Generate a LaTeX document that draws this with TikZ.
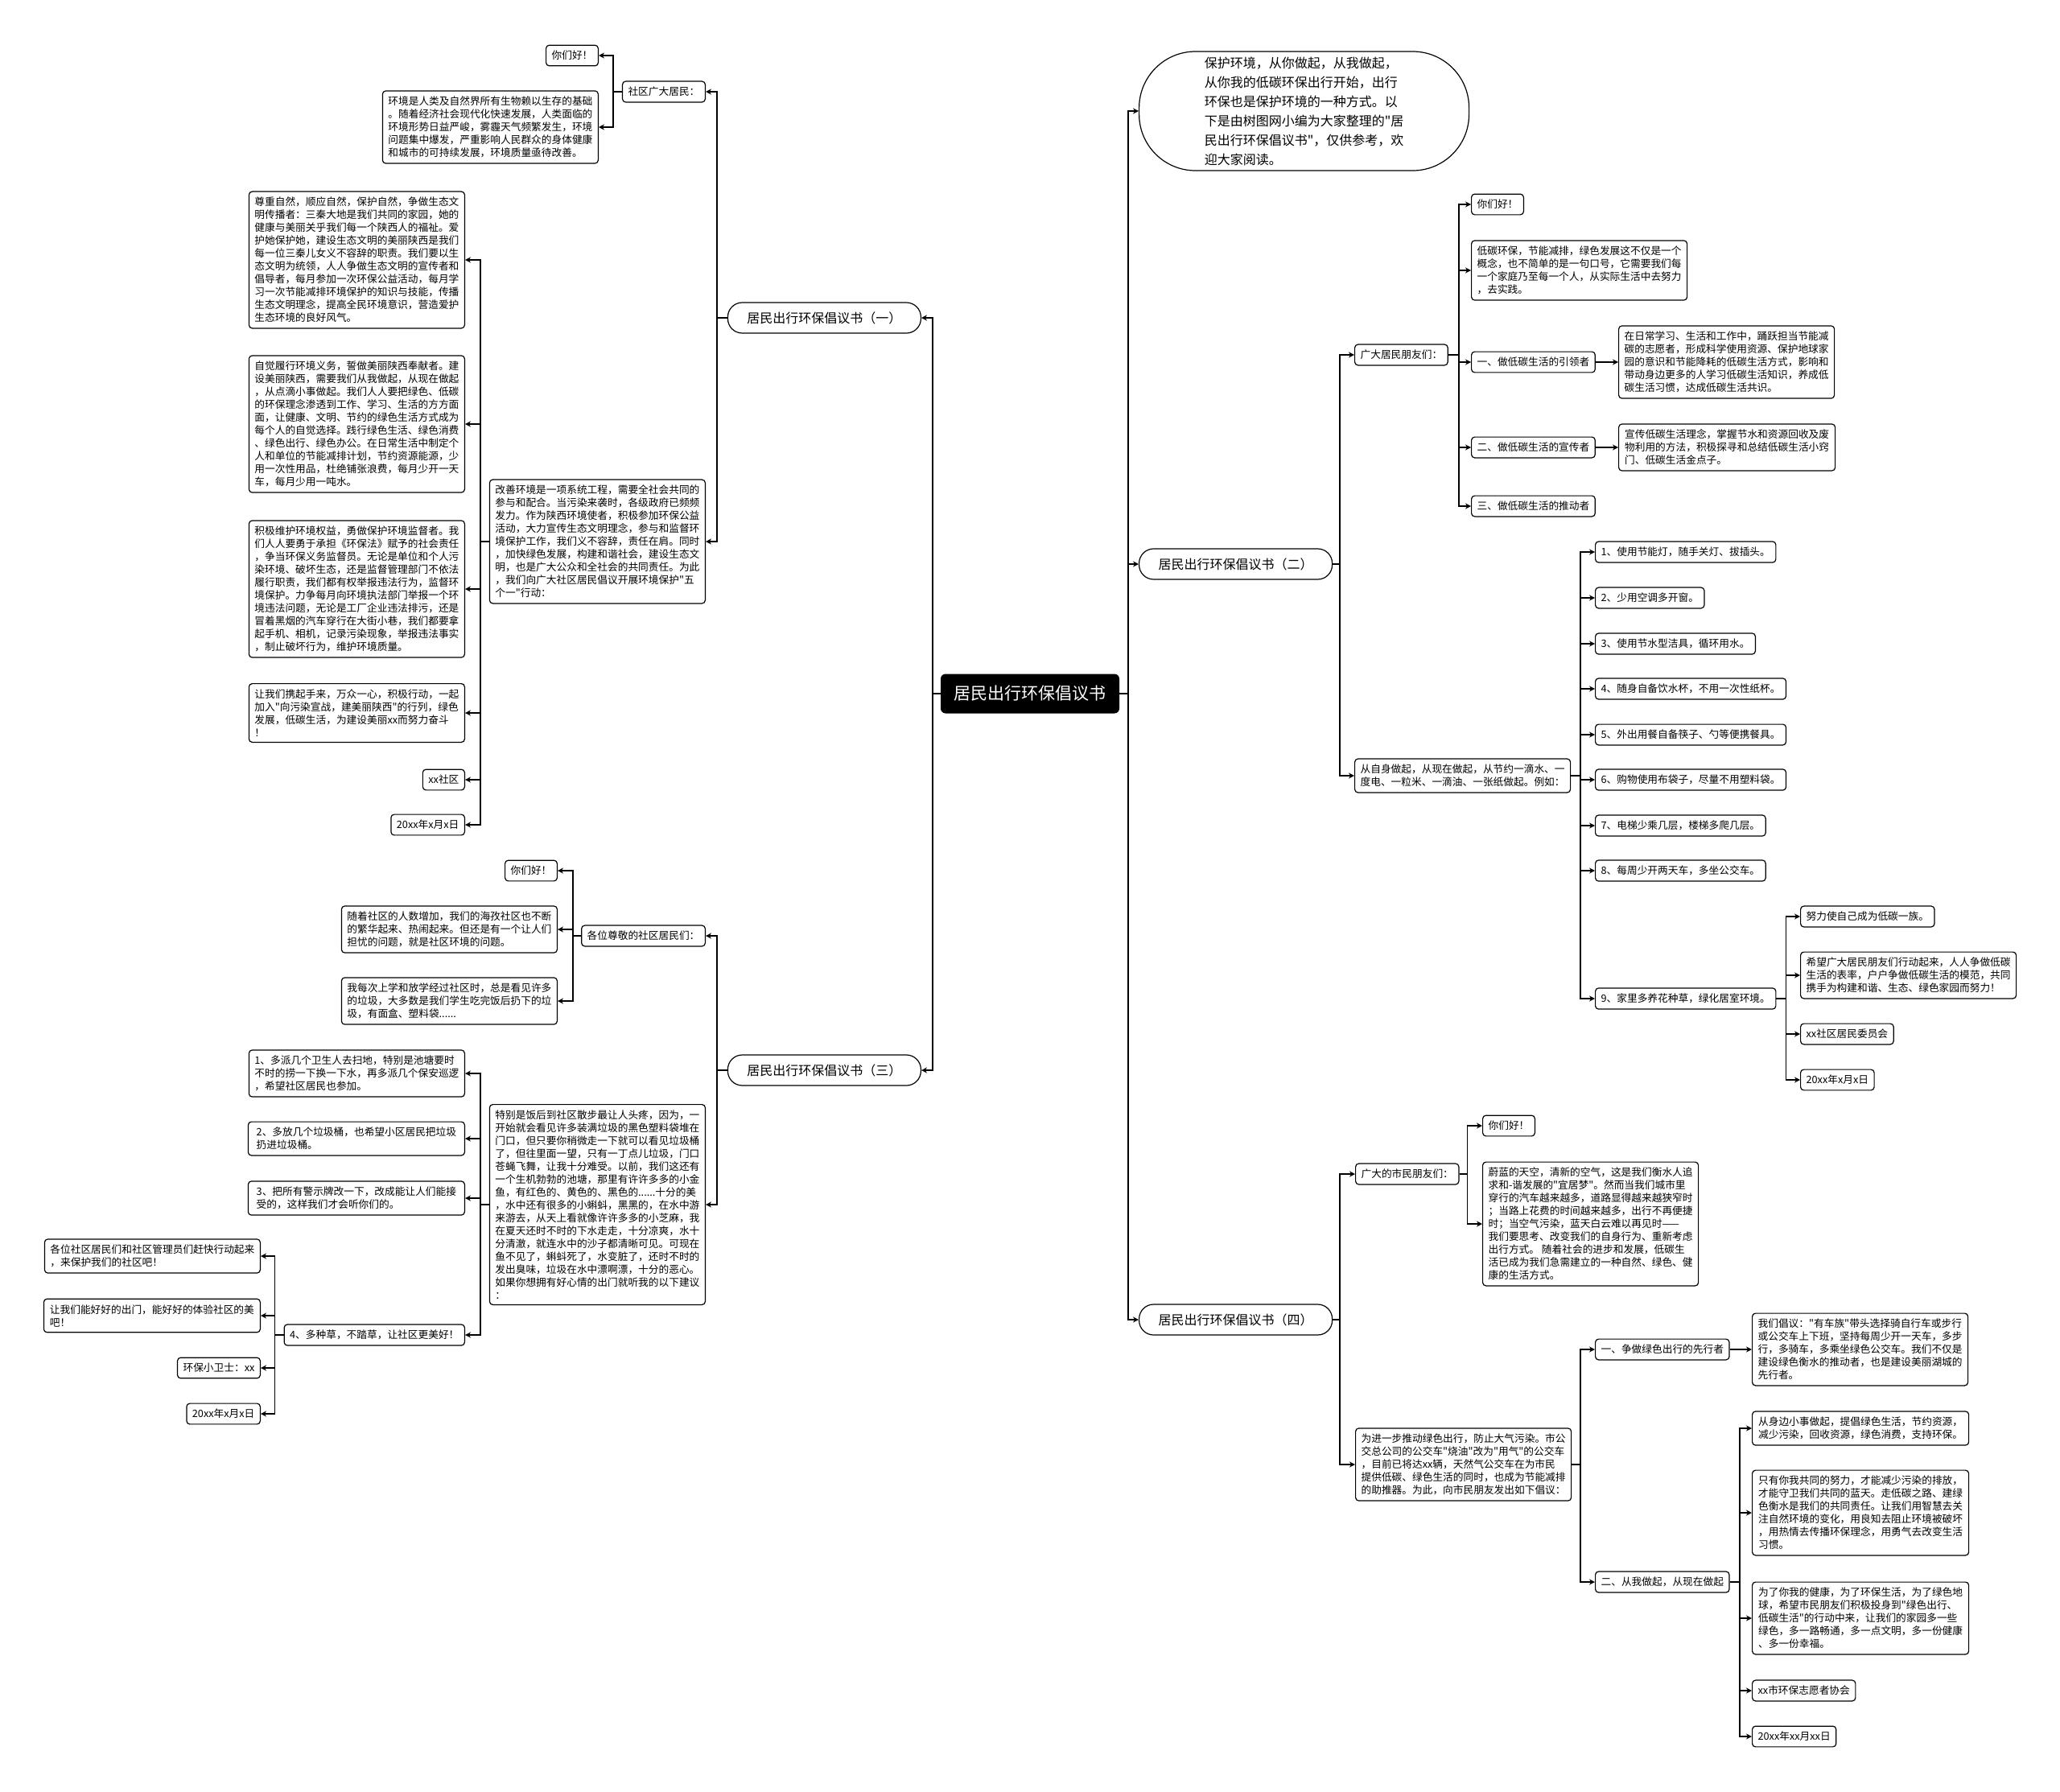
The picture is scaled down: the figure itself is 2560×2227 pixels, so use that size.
\documentclass[tikz,border=0pt]{standalone}
\usepackage{fontspec}
\setmainfont{Noto Sans CJK SC}[Ligatures=TeXOff]
\usepackage{tikz}
\usetikzlibrary{arrows.meta}
\newcommand\leaffont{\fontsize{12.7pt}{16pt}\selectfont}
\newcommand\topicfont{\fontsize{16pt}{20pt}\selectfont}
\newcommand\introfont{\fontsize{16pt}{24pt}\selectfont}
\newcommand\rootfont{\fontsize{21pt}{26pt}\selectfont}

\begin{document}
\begin{tikzpicture}[x=1pt,y=-1pt,
  leaf/.style={draw,line width=1.2pt,rounded corners=4pt,fill=white,align=left,font=\leaffont,inner xsep=7pt,inner ysep=7pt},
  topic/.style={draw,line width=1.2pt,rounded corners=18pt,fill=white,font=\topicfont,minimum width=240pt,minimum height=38pt},
  intro/.style={draw,line width=1.2pt,rounded corners=70pt,fill=white,align=left,font=\introfont,minimum width=410pt,minimum height=148pt},
  link/.style={line width=1.8pt,-{Stealth[length=7pt,width=7pt]}}]
\useasboundingbox[fill=white] (0,0) rectangle (2560,2227);

% centre
\node[fill=black,text=white,rounded corners=6pt,font=\rootfont,minimum width=222pt,minimum height=49pt] (root) at (1280,862) {居民出行环保倡议书};
\node[topic,anchor=east] (t1) at (1145,395) {居民出行环保倡议书（一）};
\node[topic,anchor=east] (t3) at (1145,1330) {居民出行环保倡议书（三）};
\node[intro,anchor=west] (intro) at (1415,138) {保护环境，从你做起，从我做起，\\从你我的低碳环保出行开始，出行\\环保也是保护环境的一种方式。以\\下是由树图网小编为大家整理的"居\\民出行环保倡议书"，仅供参考，欢\\迎大家阅读。};
\node[topic,anchor=west] (t2) at (1415,701) {居民出行环保倡议书（二）};
\node[topic,anchor=west] (t4) at (1415,1640) {居民出行环保倡议书（四）};

% (一)
\node[leaf,anchor=east] (a1) at (877,114) {社区广大居民：};
\node[leaf,anchor=east] (a1a) at (744,69) {你们好！};
\node[leaf,anchor=east] (a1b) at (744,158) {环境是人类及自然界所有生物赖以生存的基础\\。随着经济社会现代化快速发展，人类面临的\\环境形势日益严峻，雾霾天气频繁发生，环境\\问题集中爆发，严重影响人民群众的身体健康\\和城市的可持续发展，环境质量亟待改善。};
\node[leaf,anchor=east] (a2) at (877,673) {改善环境是一项系统工程，需要全社会共同的\\参与和配合。当污染来袭时，各级政府已频频\\发力。作为陕西环境使者，积极参加环保公益\\活动，大力宣传生态文明理念，参与和监督环\\境保护工作，我们义不容辞，责任在肩。同时\\，加快绿色发展，构建和谐社会，建设生态文\\明，也是广大公众和全社会的共同责任。为此\\，我们向广大社区居民倡议开展环境保护"五\\个一"行动：};
\node[leaf,anchor=east] (a2a) at (578,323) {尊重自然，顺应自然，保护自然，争做生态文\\明传播者：三秦大地是我们共同的家园，她的\\健康与美丽关乎我们每一个陕西人的福祉。爱\\护她保护她，建设生态文明的美丽陕西是我们\\每一位三秦儿女义不容辞的职责。我们要以生\\态文明为统领，人人争做生态文明的宣传者和\\倡导者，每月参加一次环保公益活动，每月学\\习一次节能减排环境保护的知识与技能，传播\\生态文明理念，提高全民环境意识，营造爱护\\生态环境的良好风气。};
\node[leaf,anchor=east] (a2b) at (578,527) {自觉履行环境义务，誓做美丽陕西奉献者。建\\设美丽陕西，需要我们从我做起，从现在做起\\，从点滴小事做起。我们人人要把绿色、低碳\\的环保理念渗透到工作、学习、生活的方方面\\面，让健康、文明、节约的绿色生活方式成为\\每个人的自觉选择。践行绿色生活、绿色消费\\、绿色出行、绿色办公。在日常生活中制定个\\人和单位的节能减排计划，节约资源能源，少\\用一次性用品，杜绝铺张浪费，每月少开一天\\车，每月少用一吨水。};
\node[leaf,anchor=east] (a2c) at (578,732) {积极维护环境权益，勇做保护环境监督者。我\\们人人要勇于承担《环保法》赋予的社会责任\\，争当环保义务监督员。无论是单位和个人污\\染环境、破坏生态，还是监督管理部门不依法\\履行职责，我们都有权举报违法行为，监督环\\境保护。力争每月向环境执法部门举报一个环\\境违法问题，无论是工厂企业违法排污，还是\\冒着黑烟的汽车穿行在大街小巷，我们都要拿\\起手机、相机，记录污染现象，举报违法事实\\，制止破坏行为，维护环境质量。};
\node[leaf,anchor=east] (a2d) at (578,886) {让我们携起手来，万众一心，积极行动，一起\\加入"向污染宣战，建美丽陕西"的行列，绿色\\发展，低碳生活，为建设美丽xx而努力奋斗\\！};
\node[leaf,anchor=east] (a2e) at (578,969) {xx社区};
\node[leaf,anchor=east] (a2f) at (578,1025) {20xx年x月x日};

% (三)
\node[leaf,anchor=east] (b1) at (877,1163) {各位尊敬的社区居民们：};
\node[leaf,anchor=east] (b1a) at (693,1082) {你们好！};
\node[leaf,anchor=east] (b1b) at (693,1155) {随着社区的人数增加，我们的海孜社区也不断\\的繁华起来、热闹起来。但还是有一个让人们\\担忧的问题，就是社区环境的问题。};
\node[leaf,anchor=east] (b1c) at (693,1244) {我每次上学和放学经过社区时，总是看见许多\\的垃圾，大多数是我们学生吃完饭后扔下的垃\\圾，有面盒、塑料袋......};
\node[leaf,anchor=east] (b2) at (877,1497) {特别是饭后到社区散步最让人头疼，因为，一\\开始就会看见许多装满垃圾的黑色塑料袋堆在\\门口，但只要你稍微走一下就可以看见垃圾桶\\了，但往里面一望，只有一丁点儿垃圾，门口\\苍蝇飞舞，让我十分难受。以前，我们这还有\\一个生机勃勃的池塘，那里有许许多多的小金\\鱼，有红色的、黄色的、黑色的......十分的美\\，水中还有很多的小蝌蚪，黑黑的，在水中游\\来游去，从天上看就像许许多多的小芝麻，我\\在夏天还时不时的下水走走，十分凉爽，水十\\分清澈，就连水中的沙子都清晰可见。可现在\\鱼不见了，蝌蚪死了，水变脏了，还时不时的\\发出臭味，垃圾在水中漂啊漂，十分的恶心。\\如果你想拥有好心情的出门就听我的以下建议\\：};
\node[leaf,anchor=east] (b2a) at (578,1334) {1、多派几个卫生人去扫地，特别是池塘要时\\不时的捞一下换一下水，再多派几个保安巡逻\\，希望社区居民也参加。};
\node[leaf,anchor=east,minimum width=269pt] (b2b) at (578,1415) {2、多放几个垃圾桶，也希望小区居民把垃圾\\扔进垃圾桶。};
\node[leaf,anchor=east,minimum width=269pt] (b2c) at (578,1489) {3、把所有警示牌改一下，改成能让人们能接\\受的，这样我们才会听你们的。};
\node[leaf,anchor=east] (b2d) at (578,1659) {4、多种草，不踏草，让社区更美好！};
\node[leaf,anchor=east] (b2d1) at (324,1561) {各位社区居民们和社区管理员们赶快行动起来\\，来保护我们的社区吧！};
\node[leaf,anchor=east,minimum width=269pt] (b2d2) at (324,1635) {让我们能好好的出门，能好好的体验社区的美\\吧！};
\node[leaf,anchor=east] (b2d3) at (324,1700) {环保小卫士：xx};
\node[leaf,anchor=east] (b2d4) at (324,1757) {20xx年x月x日};

% (二)
\node[leaf,anchor=west] (c1) at (1683,441) {广大居民朋友们：};
\node[leaf,anchor=west] (c1a) at (1828,254) {你们好！};
\node[leaf,anchor=west] (c1b) at (1828,336) {低碳环保，节能减排，绿色发展这不仅是一个\\概念，也不简单的是一句口号，它需要我们每\\一个家庭乃至每一个人，从实际生活中去努力\\，去实践。};
\node[leaf,anchor=west] (c1c) at (1828,450) {一、做低碳生活的引领者};
\node[leaf,anchor=west] (c1c1) at (2011,450) {在日常学习、生活和工作中，踊跃担当节能减\\碳的志愿者，形成科学使用资源、保护地球家\\园的意识和节能降耗的低碳生活方式，影响和\\带动身边更多的人学习低碳生活知识，养成低\\碳生活习惯，达成低碳生活共识。};
\node[leaf,anchor=west] (c1d) at (1828,556) {二、做低碳生活的宣传者};
\node[leaf,anchor=west,minimum width=269pt] (c1d1) at (2011,556) {宣传低碳生活理念，掌握节水和资源回收及废\\物利用的方法，积极探寻和总结低碳生活小窍\\门、低碳生活金点子。};
\node[leaf,anchor=west] (c1e) at (1828,629) {三、做低碳生活的推动者};
\node[leaf,anchor=west] (c2) at (1683,964) {从自身做起，从现在做起，从节约一滴水、一\\度电、一粒米、一滴油、一张纸做起。例如：};
\node[leaf,anchor=west] (c21) at (1982,686) {1、使用节能灯，随手关灯、拔插头。};
\node[leaf,anchor=west] (c22) at (1982,743) {2、少用空调多开窗。};
\node[leaf,anchor=west] (c23) at (1982,800) {3、使用节水型洁具，循环用水。};
\node[leaf,anchor=west] (c24) at (1982,856) {4、随身自备饮水杯，不用一次性纸杯。};
\node[leaf,anchor=west] (c25) at (1982,913) {5、外出用餐自备筷子、勺等便携餐具。};
\node[leaf,anchor=west] (c26) at (1982,969) {6、购物使用布袋子，尽量不用塑料袋。};
\node[leaf,anchor=west] (c27) at (1982,1026) {7、电梯少乘几层，楼梯多爬几层。};
\node[leaf,anchor=west] (c28) at (1982,1082) {8、每周少开两天车，多坐公交车。};
\node[leaf,anchor=west] (c29) at (1982,1241) {9、家里多养花种草，绿化居室环境。};
\node[leaf,anchor=west] (c291) at (2237,1139) {努力使自己成为低碳一族。};
\node[leaf,anchor=west] (c292) at (2237,1212) {希望广大居民朋友们行动起来，人人争做低碳\\生活的表率，户户争做低碳生活的模范，共同\\携手为构建和谐、生态、绿色家园而努力！};
\node[leaf,anchor=west] (c293) at (2237,1285) {xx社区居民委员会};
\node[leaf,anchor=west] (c294) at (2237,1342) {20xx年x月x日};

% (四)
\node[leaf,anchor=west] (d1) at (1684,1459) {广大的市民朋友们：};
\node[leaf,anchor=west] (d1a) at (1842,1399) {你们好！};
\node[leaf,anchor=west] (d1b) at (1842,1521) {蔚蓝的天空，清新的空气，这是我们衡水人追\\求和-谐发展的"宜居梦"。然而当我们城市里\\穿行的汽车越来越多，道路显得越来越狭窄时\\；当路上花费的时间越来越多，出行不再便捷\\时；当空气污染，蓝天白云难以再见时——\\我们要思考、改变我们的自身行为、重新考虑\\出行方式。 随着社会的进步和发展，低碳生\\活已成为我们急需建立的一种自然、绿色、健\\康的生活方式。};
\node[leaf,anchor=west] (d2) at (1684,1820) {为进一步推动绿色出行，防止大气污染。市公\\交总公司的公交车"烧油"改为"用气"的公交车\\，目前已将达xx辆，天然气公交车在为市民\\提供低碳、绿色生活的同时，也成为节能减排\\的助推器。为此，向市民朋友发出如下倡议：};
\node[leaf,anchor=west] (d2a) at (1982,1677) {一、争做绿色出行的先行者};
\node[leaf,anchor=west] (d2a1) at (2177,1677) {我们倡议："有车族"带头选择骑自行车或步行\\或公交车上下班，坚持每周少开一天车，多步\\行，多骑车，多乘坐绿色公交车。我们不仅是\\建设绿色衡水的推动者，也是建设美丽湖城的\\先行者。};
\node[leaf,anchor=west] (d2b) at (1982,1966) {二、从我做起，从现在做起};
\node[leaf,anchor=west,minimum width=269pt] (d2b1) at (2177,1775) {从身边小事做起，提倡绿色生活，节约资源，\\减少污染，回收资源，绿色消费，支持环保。};
\node[leaf,anchor=west,minimum width=269pt] (d2b2) at (2177,1880) {只有你我共同的努力，才能减少污染的排放，\\才能守卫我们共同的蓝天。走低碳之路、建绿\\色衡水是我们的共同责任。让我们用智慧去关\\注自然环境的变化，用良知去阻止环境被破坏\\，用热情去传播环保理念，用勇气去改变生活\\习惯。};
\node[leaf,anchor=west,minimum width=269pt] (d2b3) at (2177,2011) {为了你我的健康，为了环保生活，为了绿色地\\球，希望市民朋友们积极投身到"绿色出行、\\低碳生活"的行动中来，让我们的家园多一些\\绿色，多一路畅通，多一点文明，多一份健康\\、多一份幸福。};
\node[leaf,anchor=west] (d2b4) at (2177,2101) {xx市环保志愿者协会};
\node[leaf,anchor=west] (d2b5) at (2177,2158) {20xx年xx月xx日};

% connectors
\foreach \c in {t1,t3} \draw[link] (root.west) -- ++(-10,0) |- (\c.east);
\foreach \c in {intro,t2,t4} \draw[link] (root.east) -- ++(11,0) |- (\c.west);
\foreach \c in {a1,a2} \draw[link] (t1.west) -- ++(-13,0) |- (\c.east);
\foreach \c in {a1a,a1b} \draw[link] (a1.west) -- ++(-11,0) |- (\c.east);
\foreach \c in {a2a,a2b,a2c,a2d,a2e,a2f} \draw[link] (a2.west) -- ++(-11,0) |- (\c.east);
\foreach \c in {b1,b2} \draw[link] (t3.west) -- ++(-13,0) |- (\c.east);
\foreach \c in {b1a,b1b,b1c} \draw[link] (b1.west) -- ++(-10,0) |- (\c.east);
\foreach \c in {b2a,b2b,b2c,b2d} \draw[link] (b2.west) -- ++(-11,0) |- (\c.east);
\foreach \c in {b2d1,b2d2,b2d3,b2d4} \draw[link] (b2d.west) -- ++(-11,0) |- (\c.east);
\foreach \c in {c1,c2} \draw[link] (t2.east) -- ++(9,0) |- (\c.west);
\foreach \c in {c1a,c1b,c1c,c1d,c1e} \draw[link] (c1.east) -- ++(13,0) |- (\c.west);
\draw[link] (c1c.east) -- (c1c1.west);
\draw[link] (c1d.east) -- (c1d1.west);
\foreach \c in {c21,c22,c23,c24,c25,c26,c27,c28,c29} \draw[link] (c2.east) -- ++(12,0) |- (\c.west);
\foreach \c in {c291,c292,c293,c294} \draw[link] (c29.east) -- ++(12,0) |- (\c.west);
\foreach \c in {d1,d2} \draw[link] (t4.east) -- ++(9,0) |- (\c.west);
\foreach \c in {d1a,d1b} \draw[link] (d1.east) -- ++(10,0) |- (\c.west);
\foreach \c in {d2a,d2b} \draw[link] (d2.east) -- ++(11,0) |- (\c.west);
\draw[link] (d2a.east) -- (d2a1.west);
\foreach \c in {d2b1,d2b2,d2b3,d2b4,d2b5} \draw[link] (d2b.east) -- ++(12,0) |- (\c.west);
\end{tikzpicture}
\end{document}
